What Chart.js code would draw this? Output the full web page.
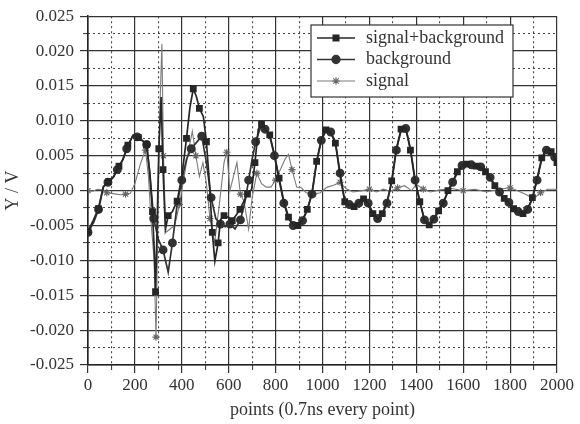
<!DOCTYPE html>
<html>
<head>
<meta charset="utf-8">
<script src="https://cdn.jsdelivr.net/npm/chart.js@4/dist/chart.umd.min.js"></script>
<style>
  html, body { margin:0; padding:0; background:#fff; }
  #wrap { width:580px; height:424px; position:relative; }
</style>
</head>
<body>
<div id="wrap"><canvas id="chart"></canvas></div>
<script>
// ----- DATA -----
const sbX = [0,22,44,66,88,110,132,150,170,193,215,235,250,262,275,283,288,294,302,312,320,330,342,360,380,400,420,435,449,462,475,492,505,518,530,541,555,565,580,598,615,632,648,665,680,698,712,726,740,755,775,795,815,835,855,875,895,915,935,955,975,995,1015,1035,1055,1075,1095,1115,1135,1155,1175,1195,1215,1235,1255,1275,1295,1315,1335,1355,1375,1395,1415,1435,1455,1475,1495,1515,1535,1555,1575,1595,1615,1635,1655,1675,1695,1715,1735,1755,1775,1795,1815,1835,1855,1875,1895,1915,1935,1955,1975,1990,2000];
const sbY = [-0.0058,-0.0043,-0.0026,0.0006,0.0013,0.002,0.0035,0.0045,0.0065,0.008,0.0076,0.0071,0.0066,0.003,-0.003,-0.009,-0.0145,-0.006,0.006,0.0134,0.003,-0.0055,-0.0036,-0.003,-0.0015,0.002,0.0075,0.012,0.0146,0.0135,0.0118,0.0106,0.007,0.001,-0.006,-0.0101,-0.0075,-0.0042,-0.0036,-0.0038,-0.0043,-0.0035,-0.0027,-0.0015,-0.0005,0.0002,0.004,0.0088,0.0095,0.0088,0.008,0.0052,0.0018,-0.0015,-0.0038,-0.0049,-0.005,-0.0042,-0.0027,-0.0004,0.0042,0.0074,0.0087,0.0083,0.0068,0.0022,-0.0016,-0.0021,-0.0023,-0.0017,-0.0012,-0.0019,-0.0033,-0.0041,-0.0033,-0.0017,0.0014,0.006,0.0088,0.009,0.0058,0.0013,-0.0016,-0.0043,-0.0049,-0.004,-0.0029,-0.0017,0,0.0013,0.0027,0.0037,0.0038,0.0036,0.0035,0.0033,0.0027,0.0018,0.0007,-0.0003,-0.0011,-0.0018,-0.0026,-0.0031,-0.0033,-0.0026,-0.001,0.0017,0.0047,0.006,0.0056,0.0047,0.004];

const bgX = [0,25,45,65,85,105,125,145,165,190,210,230,250,265,280,300,320,342,360,380,400,420,440,460,485,505,525,545,565,585,605,627,650,670,685,700,715,735,755,775,795,815,835,855,875,895,915,935,955,975,995,1015,1035,1055,1075,1095,1115,1135,1155,1175,1195,1215,1235,1255,1275,1295,1315,1335,1355,1375,1395,1415,1435,1455,1475,1495,1515,1535,1555,1575,1595,1615,1635,1655,1675,1695,1715,1735,1755,1775,1795,1815,1835,1855,1875,1895,1915,1935,1955,1975,1990,2000];
const bgY = [-0.006,-0.0045,-0.0027,0.0005,0.0012,0.0018,0.003,0.0042,0.006,0.0078,0.0077,0.0072,0.0066,0.002,-0.004,-0.007,-0.0085,-0.0117,-0.0075,-0.002,0.0015,0.0045,0.006,0.0068,0.0078,0.004,-0.001,-0.004,-0.0048,-0.0052,-0.0048,-0.0055,-0.0042,-0.0015,0.0015,0.0045,0.007,0.009,0.0088,0.0078,0.005,0.0015,-0.0018,-0.004,-0.005,-0.0052,-0.0043,-0.0028,-0.0005,0.004,0.0072,0.0086,0.0084,0.007,0.0025,-0.0015,-0.002,-0.0022,-0.0018,-0.0013,-0.0018,-0.0032,-0.004,-0.0034,-0.0018,0.0012,0.0058,0.0086,0.0089,0.006,0.0015,-0.0015,-0.0042,-0.005,-0.0041,-0.003,-0.0018,-0.0002,0.0012,0.0025,0.0036,0.0039,0.0037,0.0035,0.0034,0.0028,0.0019,0.0008,-0.0002,-0.001,-0.0017,-0.0025,-0.003,-0.0032,-0.0027,-0.0012,0.0015,0.0045,0.0058,0.0057,0.0048,0.0042];

const sigX = [0,20,40,60,80,100,120,140,160,180,200,225,245,258,270,282,290,298,305,315,322,332,350,370,390,410,430,445,460,475,490,505,520,540,560,580,592,605,620,635,650,665,685,700,720,740,760,780,800,820,840,855,870,890,910,930,960,990,1020,1050,1075,1100,1130,1170,1200,1230,1260,1290,1320,1350,1380,1400,1430,1460,1500,1550,1600,1650,1700,1750,1800,1830,1870,1900,1930,1960,2000];
const sigY = [0,-0.0001,0.0002,0.0001,-0.0003,-0.0004,-0.0005,-0.0006,-0.0005,-0.0004,0.001,0.004,0.0058,0.002,-0.005,-0.01,-0.021,-0.005,0.01,0.021,0.005,-0.006,-0.0055,-0.005,-0.002,0.002,0.006,0.0085,0.005,0.002,0.004,0.001,-0.004,-0.0075,-0.002,0.004,0.0055,0,0.002,0.004,-0.0005,-0.0015,-0.0055,-0.001,0.0025,0.001,0.0005,0.0005,0.0015,0.003,0.0045,0.0052,0.003,0.0005,0.0004,-0.0003,-0.0005,-0.0003,0.0005,0.0008,0.0012,0.0003,-0.0002,0,0.0002,-0.0002,0.0002,-0.0001,0.0004,0.0007,0,0.0009,0.0002,-0.0002,0.0001,0.0003,0,0.0002,-0.0002,0.0002,0.0004,0,-0.0006,-0.0012,-0.0003,0.0002,0.0002];

const SERIES = ['signal+background', 'background', 'signal'];

// ----- STYLE -----
const FONT = 'Liberation Serif, "Times New Roman", serif';
const INK = '#333';
const GRID = '#333';

function pts(xs, ys){ return xs.map((x,i)=>({x, y:ys[i]})); }
function isMajor(v, step){ return Math.abs(v/step - Math.round(v/step)) < 1e-6; }

// legend drawn inside the plot, boxed like the original
const boxLegend = {
  id: 'boxLegend',
  afterDraw(chart){
    const ctx = chart.ctx;
    const x0 = 311, y0 = 25, w = 202, h = 72;
    ctx.save();
    ctx.fillStyle = '#fff';
    ctx.fillRect(x0, y0, w, h);
    ctx.strokeStyle = '#333';
    ctx.lineWidth = 1.2;
    ctx.strokeRect(x0, y0, w, h);
    ctx.font = '18px ' + FONT;
    ctx.textBaseline = 'middle';
    chart.data.datasets.forEach((ds, i) => {
      const y = y0 + 13 + i * 21.5;
      ctx.strokeStyle = ds.borderColor;
      ctx.lineWidth = ds.borderWidth;
      ctx.beginPath();
      ctx.moveTo(x0 + 6, y);
      ctx.lineTo(x0 + 44, y);
      ctx.stroke();
      ctx.fillStyle = ds.pointBackgroundColor;
      ctx.strokeStyle = ds.pointBorderColor;
      Chart.helpers.drawPoint(ctx, { pointStyle: ds.pointStyle, radius: 3.8, rotation: 0, borderWidth: 1 }, x0 + 25, y);
      ctx.fillStyle = INK;
      ctx.fillText(ds.label, x0 + 55, y);
    });
    ctx.restore();
  }
};

const sparse = (n, r) => c => (c.index % n === 0 ? r : 0);

new Chart(document.getElementById('chart'), {
  type: 'line',
  data: {
    datasets: [
      { label: SERIES[0], data: pts(sbX, sbY), borderColor: '#262626', borderWidth: 1.7,
        pointStyle: 'rect', pointRadius: sparse(2, 3.6), pointBackgroundColor: '#262626', pointBorderColor: '#262626' },
      { label: SERIES[1], data: pts(bgX, bgY), borderColor: '#333', borderWidth: 1.7,
        pointStyle: 'circle', pointRadius: sparse(2, 3.6), pointBackgroundColor: '#333', pointBorderColor: '#333' },
      { label: SERIES[2], data: pts(sigX, sigY), borderColor: '#7a7a7a', borderWidth: 1.1,
        pointStyle: 'star', pointRadius: sparse(4, 3.6), pointBackgroundColor: '#666', pointBorderColor: '#666' }
    ]
  },
  options: {
    responsive: true,
    maintainAspectRatio: false,
    animation: false,
    events: [],
    layout: { padding: { top: 13, right: 23, left: 0, bottom: 0 } },
    plugins: { legend: { display: false }, tooltip: { enabled: false } },
    elements: { line: { tension: 0 } },
    scales: {
      x: {
        type: 'linear', position: 'bottom', min: 0, max: 2000, weight: 1,
        ticks: { stepSize: 200, autoSkip: false, maxRotation: 0, padding: 2, color: INK, font: { family: FONT, size: 17 },
          callback: v => String(Math.round(v)) },
        grid: { color: GRID, lineWidth: 1.2, tickLength: 8, tickColor: '#333' },
        border: { color: '#222', width: 1.6 },
        title: { display: true, text: 'points (0.7ns every point)', color: INK, font: { family: FONT, size: 18 }, padding: { top: 0, bottom: 3 } },
        afterFit: s => { s.height = 59; }
      },
      xMinor: {
        type: 'linear', position: 'bottom', min: 0, max: 2000, weight: 0,
        ticks: { display: false, stepSize: 100, autoSkip: false },
        grid: { color: c => (c.tick && isMajor(c.tick.value, 200)) ? 'rgba(0,0,0,0)' : '#444', lineWidth: 1.1, tickLength: 5 },
        border: { display: false, dash: [2, 3] },
        afterFit: s => { s.height = 0; }
      },
      y: {
        type: 'linear', position: 'left', min: -0.025, max: 0.025, weight: 1,
        ticks: { stepSize: 0.005, autoSkip: false, padding: 6, color: INK, font: { family: FONT, size: 17 },
          callback: v => (Math.abs(v) < 1e-9 ? 0 : v).toFixed(3) },
        grid: { color: GRID, lineWidth: 1.2, tickLength: 8, tickColor: '#333' },
        border: { color: '#222', width: 1.6 },
        title: { display: true, text: 'Y / V', color: INK, font: { family: FONT, size: 18 }, padding: { top: 2, bottom: 0 } },
        afterFit: s => { s.width = 88; }
      },
      yMinor: {
        type: 'linear', position: 'left', min: -0.025, max: 0.025, weight: 0,
        ticks: { display: false, stepSize: 0.0025, autoSkip: false },
        grid: { color: c => (c.tick && isMajor(c.tick.value, 0.005)) ? 'rgba(0,0,0,0)' : '#444', lineWidth: 1.1, tickLength: 5 },
        border: { display: false, dash: [2, 3] },
        afterFit: s => { s.width = 0; }
      }
    }
  },
  plugins: [boxLegend]
});
</script>
</body>
</html>
